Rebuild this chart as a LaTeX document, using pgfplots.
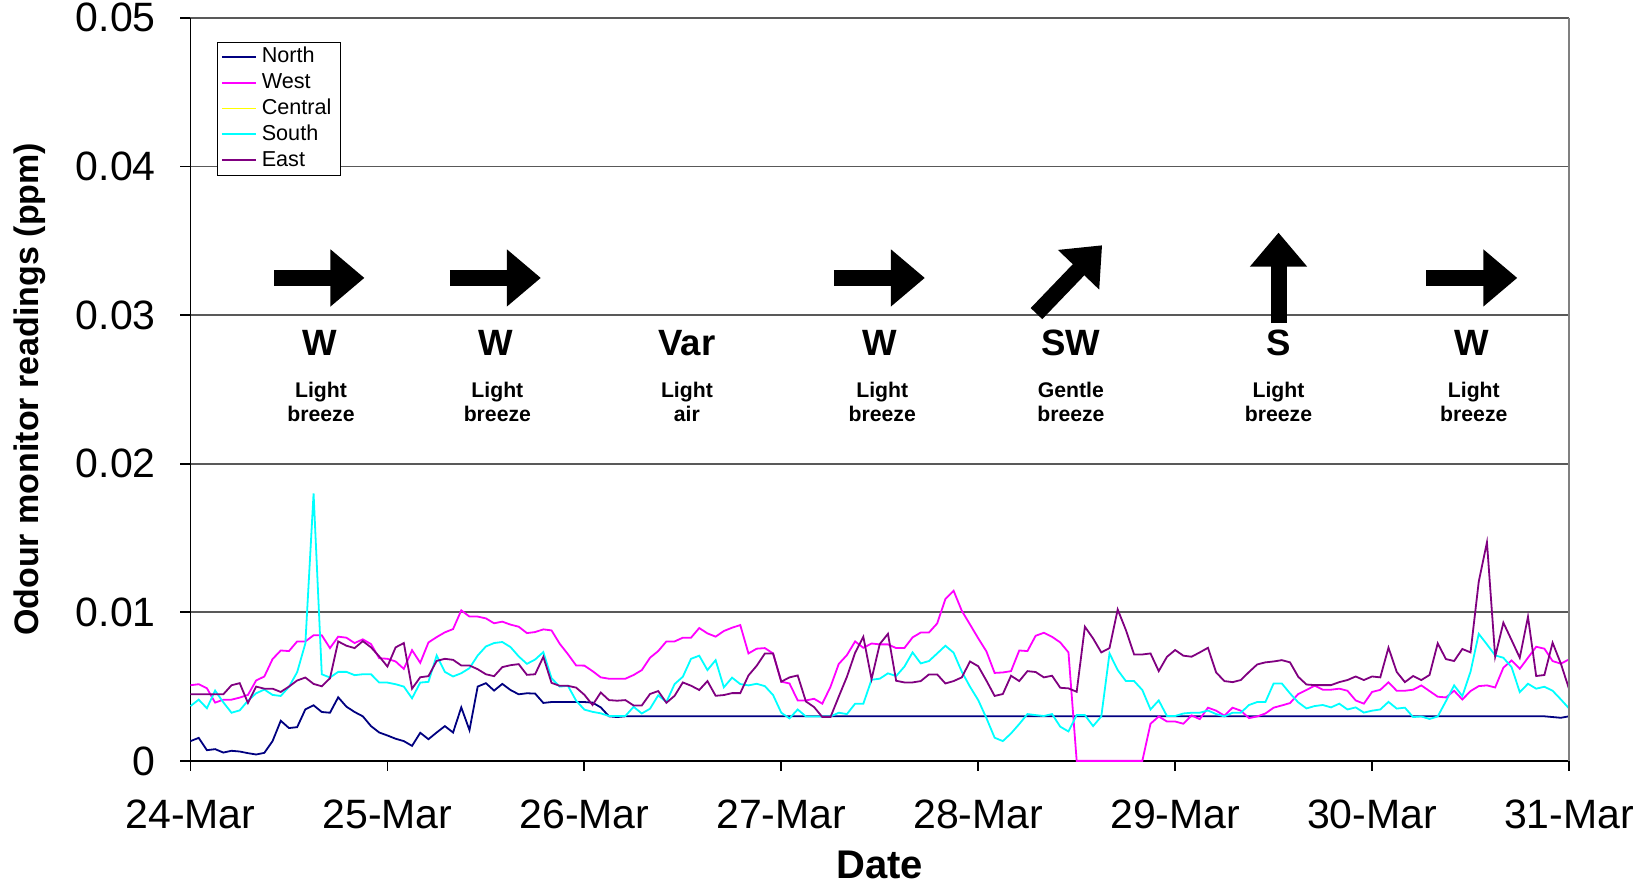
\documentclass[border=0pt]{standalone}
\usepackage{fontspec}
\setmainfont{Liberation Sans}
\usepackage{pgfplots}
\usepackage{pgfplotstable}
\pgfplotsset{compat=1.18}
\usetikzlibrary{arrows.meta,calc}

\definecolor{northc}{HTML}{000080}
\definecolor{westc}{HTML}{FF00FF}
\definecolor{centralc}{HTML}{FFFF00}
\definecolor{southc}{HTML}{00FFFF}
\definecolor{eastc}{HTML}{800080}

% hourly readings, units of 0.001 ppm (h = hours after 24-Mar 00:00)
\pgfplotstableread{
h N W S E
0 1.33 5.09 3.69 4.48
1 1.55 5.16 4.12 4.48
2 0.72 4.89 3.54 4.48
3 0.79 3.92 4.73 4.48
4 0.56 4.12 3.94 4.48
5 0.68 4.12 3.24 5.09
6 0.63 4.26 3.40 5.23
7 0.52 4.44 4.05 3.90
8 0.43 5.41 4.55 5.00
9 0.54 5.68 4.80 4.86
10 1.33 6.85 4.44 4.86
11 2.70 7.43 4.37 4.64
12 2.21 7.39 4.98 5.00
13 2.27 8.04 5.97 5.41
14 3.47 8.04 7.91 5.61
15 3.74 8.45 18.00 5.18
16 3.29 8.45 5.83 5.02
17 3.24 7.59 5.61 5.56
18 4.28 8.36 5.99 8.04
19 3.65 8.29 5.99 7.75
20 3.29 7.93 5.77 7.59
21 3.00 8.18 5.83 8.06
22 2.34 7.86 5.83 7.64
23 1.91 6.91 5.27 7.03
24 1.71 6.87 5.27 6.35
25 1.49 6.69 5.16 7.64
26 1.33 6.19 5.00 7.93
27 1.01 7.45 4.21 4.86
28 1.89 6.60 5.27 5.63
29 1.46 7.97 5.32 5.70
30 1.91 8.33 7.09 6.73
31 2.34 8.65 5.99 6.87
32 1.91 8.87 5.68 6.80
33 3.60 10.13 5.90 6.42
34 2.07 9.71 6.24 6.42
35 5.00 9.71 7.09 6.17
36 5.23 9.59 7.70 5.83
37 4.73 9.26 7.93 5.70
38 5.18 9.37 8.00 6.31
39 4.77 9.17 7.66 6.44
40 4.48 9.03 7.03 6.51
41 4.55 8.60 6.53 5.79
42 4.53 8.67 6.82 5.83
43 3.90 8.85 7.32 7.00
44 3.96 8.78 5.56 5.25
45 3.96 7.88 5.00 5.05
46 3.96 7.18 5.05 5.05
47 3.96 6.42 4.05 4.93
48 3.96 6.41 3.45 4.45
49 3.92 6.04 3.30 3.76
50 3.60 5.62 3.20 4.60
51 3.00 5.53 3.02 4.09
52 2.95 5.53 3.02 4.05
53 3.00 5.53 3.02 4.09
54 3.00 5.78 3.64 3.73
55 3.00 6.11 3.19 3.73
56 3.00 6.94 3.51 4.50
57 3.00 7.39 4.41 4.70
58 3.00 8.04 3.96 3.91
59 3.00 8.04 5.17 4.38
60 3.00 8.29 5.66 5.28
61 3.00 8.29 6.87 5.06
62 3.00 8.94 7.08 4.77
63 3.00 8.58 6.11 5.37
64 3.00 8.36 6.78 4.38
65 3.00 8.74 4.95 4.43
66 3.00 8.96 5.60 4.56
67 3.00 9.14 5.17 4.56
68 3.00 7.23 5.08 5.75
69 3.00 7.55 5.19 6.40
70 3.00 7.59 5.03 7.23
71 3.00 7.23 4.43 7.23
72 3.00 5.33 3.24 5.33
73 3.00 5.21 2.86 5.62
74 3.00 4.07 3.46 5.75
75 3.00 4.07 2.99 4.00
76 3.00 4.18 2.99 3.62
77 3.00 3.85 2.99 2.95
78 3.00 4.99 2.99 2.95
79 3.00 6.52 3.24 4.32
80 3.00 7.12 3.15 5.66
81 3.00 8.04 3.85 7.28
82 3.00 7.61 3.85 8.35
83 3.00 7.90 5.46 5.50
84 3.00 7.84 5.53 7.86
85 3.00 7.84 5.89 8.55
86 3.00 7.59 5.71 5.39
87 3.00 7.59 6.34 5.28
88 3.00 8.31 7.30 5.28
89 3.00 8.64 6.56 5.37
90 3.00 8.64 6.72 5.82
91 3.00 9.25 7.23 5.82
92 3.00 10.89 7.75 5.21
93 3.00 11.45 7.28 5.37
94 3.00 10.10 6.00 5.62
95 3.00 9.18 4.99 6.69
96 3.00 8.25 4.09 6.37
97 3.00 7.37 2.88 5.40
98 3.00 5.92 1.56 4.37
99 3.00 5.95 1.33 4.50
100 3.00 6.04 1.85 5.73
101 3.00 7.43 2.48 5.37
102 3.00 7.39 3.15 6.04
103 3.00 8.42 3.08 5.98
104 3.00 8.62 3.02 5.62
105 3.00 8.35 3.15 5.73
106 3.00 7.97 2.30 4.92
107 3.00 7.30 1.98 4.88
108 3.00 0 3.08 4.65
109 3.00 0 3.08 9.03
110 3.00 0 2.34 8.24
111 3.00 0 2.99 7.30
112 3.00 0 7.23 7.59
113 3.00 0 6.11 10.19
114 3.00 0 5.37 8.80
115 3.00 0 5.37 7.16
116 3.00 0 4.77 7.16
117 3.00 2.50 3.46 7.23
118 3.00 2.99 4.07 6.04
119 3.00 2.65 3.02 7.00
120 3.00 2.65 3.02 7.46
121 3.00 2.50 3.19 7.08
122 3.00 3.06 3.24 7.01
123 3.00 2.81 3.24 7.30
124 3.00 3.58 3.39 7.61
125 3.00 3.38 3.15 5.95
126 3.00 3.04 2.99 5.37
127 3.00 3.58 3.24 5.30
128 3.00 3.38 3.24 5.44
129 3.00 2.88 3.76 5.98
130 3.00 2.99 3.96 6.49
131 3.00 3.19 3.96 6.63
132 3.00 3.58 5.21 6.69
133 3.00 3.73 5.21 6.78
134 3.00 3.89 4.54 6.63
135 3.00 4.50 3.94 5.66
136 3.00 4.77 3.53 5.14
137 3.00 5.06 3.69 5.10
138 3.00 4.79 3.76 5.10
139 3.00 4.79 3.60 5.10
140 3.00 4.86 3.85 5.30
141 3.00 4.72 3.46 5.44
142 3.00 4.07 3.60 5.68
143 3.00 3.85 3.25 5.44
144 3.00 4.64 3.38 5.68
145 3.00 4.78 3.46 5.62
146 3.00 5.29 3.97 7.62
147 3.00 4.72 3.52 5.99
148 3.00 4.72 3.58 5.30
149 3.00 4.79 2.95 5.71
150 3.00 5.08 2.99 5.44
151 3.00 4.70 2.82 5.78
152 3.00 4.32 2.99 7.91
153 3.00 4.27 4.02 6.85
154 3.00 4.72 5.08 6.72
155 3.00 4.13 4.36 7.53
156 3.00 4.70 6.00 7.30
157 3.00 5.03 8.55 12.06
158 3.00 5.08 7.84 14.71
159 3.00 4.94 7.10 7.01
160 3.00 6.27 6.94 9.30
161 3.00 6.76 6.31 8.13
162 3.00 6.20 4.63 6.94
163 3.00 6.94 5.19 9.70
164 3.00 7.68 4.86 5.71
165 3.00 7.55 4.99 5.78
166 2.95 6.72 4.72 7.95
167 2.90 6.54 4.14 6.56
168 3.00 6.83 3.53 4.85
}\odour

\tikzset{
  windarrow/.style={line width=8pt, -{Triangle[length=17pt,width=27.5pt]}},
  winddir/.style={font=\bfseries\fontsize{18.3}{22}\selectfont},
  windforce/.style={align=center, font=\bfseries\fontsize{10.6}{11.8}\selectfont}
}

\begin{document}
\begin{tikzpicture}
\begin{axis}[
  name=ax,
  scale only axis,
  width=689.25pt, height=371.5pt,
  xmin=0, xmax=168, ymin=0, ymax=50,
  xtick={0,24,...,168},
  xticklabels={24-Mar,25-Mar,26-Mar,27-Mar,28-Mar,29-Mar,30-Mar,31-Mar},
  ytick={0,10,...,50},
  yticklabels={0,0.01,0.02,0.03,0.04,0.05},
  axis x line*=bottom, axis y line*=left,
  axis line style={black, line width=0.9pt},
  tick style={black, line width=0.9pt},
  tick align=outside,
  major tick length=5pt,
  ymajorgrids,
  grid style={black!65, line width=0.9pt},
  tick label style={font=\fontsize{20.5}{24}\selectfont},
  yticklabel style={xshift=-8.9pt},
  xticklabel style={yshift=-11pt},
  xlabel={Date},
  ylabel={Odour monitor readings (ppm)},
  xlabel style={font=\bfseries\fontsize{20}{24}\selectfont,
    at={(axis description cs:0.5,-0.140)}, anchor=center},
  ylabel style={font=\bfseries\fontsize{17}{20}\selectfont,
    at={(axis description cs:-0.1168,0.5)}, anchor=center},
  clip=false,
  legend cell align=left,
  legend style={at={(0.019,0.968)}, anchor=north west, draw=black,
    font=\fontsize{10.8}{13}\selectfont, inner xsep=2pt, inner ysep=1pt,
    row sep=0pt, nodes={inner xsep=2.4pt, inner ysep=1pt, text height=8.4pt, text depth=2.5pt}},
]
\addplot[northc, line width=0.9pt, no markers] table[x=h, y=N] {\odour};
\addlegendentry{North}
\addplot[westc, line width=0.9pt, no markers] table[x=h, y=W] {\odour};
\addlegendentry{West}
\addlegendimage{centralc, line width=0.9pt}
\addlegendentry{Central}
\addplot[southc, line width=0.9pt, no markers] table[x=h, y=S] {\odour};
\addlegendentry{South}
\addplot[eastc, line width=0.9pt, no markers] table[x=h, y=E] {\odour};
\addlegendentry{East}

\draw[black!50, line width=0.9pt] (rel axis cs:1,0) -- (rel axis cs:1,1);

% wind arrows
\draw[windarrow] (10.2,32.5) -- (21.2,32.5);
\draw[windarrow] (31.6,32.5) -- (42.7,32.5);
\draw[windarrow] (78.4,32.5) -- (89.5,32.5);
\draw[windarrow] (103.1,30.1) -- (111.1,34.7);
\draw[windarrow] (132.6,29.46) -- (132.6,35.55);
\draw[windarrow] (150.6,32.5) -- (161.7,32.5);

\node[winddir] at (15.8,28.1) {W};
\node[winddir] at (37.2,28.1) {W};
\node[winddir] at (60.5,28.1) {Var};
\node[winddir] at (84.0,28.1) {W};
\node[winddir] at (107.3,28.1) {SW};
\node[winddir] at (132.6,28.1) {S};
\node[winddir] at (156.1,28.1) {W};

\node[windforce] at (15.9,24.15) {Light\\breeze};
\node[windforce] at (37.4,24.15) {Light\\breeze};
\node[windforce] at (60.5,24.15) {Light\\air};
\node[windforce] at (84.3,24.15) {Light\\breeze};
\node[windforce] at (107.3,24.15) {Gentle\\breeze};
\node[windforce] at (132.6,24.15) {Light\\breeze};
\node[windforce] at (156.4,24.15) {Light\\breeze};
\end{axis}
\pgfresetboundingbox
\path[use as bounding box] ($(ax.south west)+(-95.25pt,-62.1pt)$) rectangle ($(ax.north east)+(40.5pt,8.95pt)$);
\end{tikzpicture}
\end{document}
